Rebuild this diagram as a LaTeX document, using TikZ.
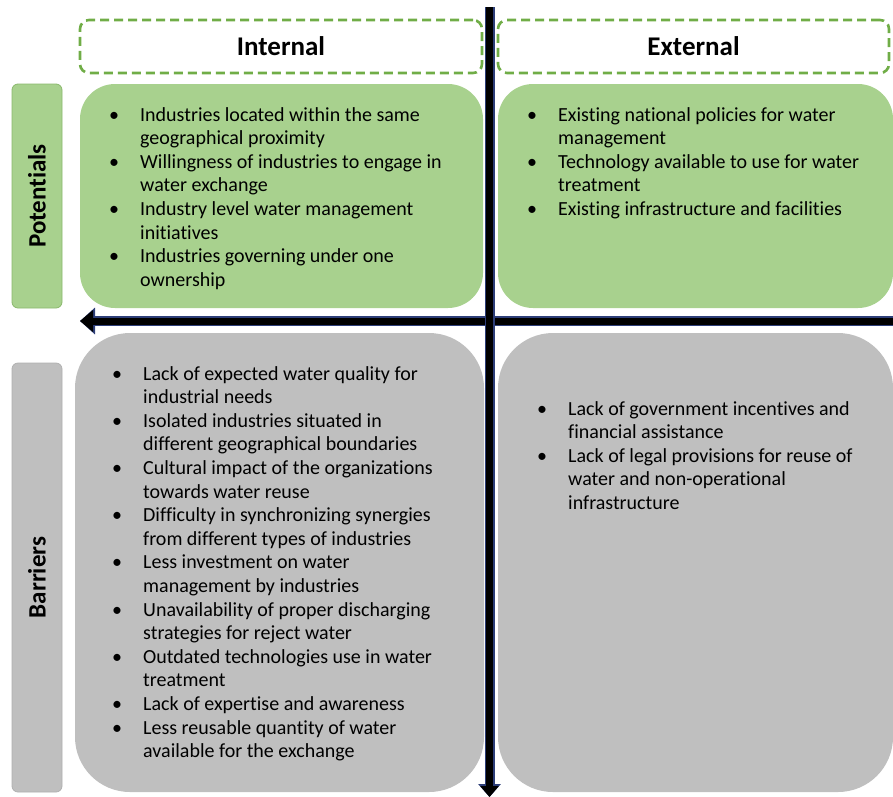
\documentclass[tikz,border=0pt]{standalone}
\usepackage{fontspec}
\setmainfont{Carlito}[Ligatures=NoCommon]
\usetikzlibrary{arrows.meta}
\usepackage{xcolor}

\definecolor{potgreen}{RGB}{168,209,142}
\definecolor{potedge}{RGB}{138,184,108}
\definecolor{dashgreen}{RGB}{112,173,71}
\definecolor{bargray}{RGB}{191,191,191}
\definecolor{baredge}{RGB}{176,176,176}
\definecolor{axisblue}{RGB}{45,62,120}

\newcommand{\itm}{\llap{\textbullet\hspace{21pt}}}

\tikzset{
  quad/.style={draw=none, inner sep=0pt},
  sidebox/.style={draw, line width=0.8pt, rounded corners=6pt, inner sep=0pt,
    minimum width=50pt},
  headbox/.style={draw=dashgreen, line width=2.6pt, dash pattern=on 9pt off 5pt,
    rounded corners=9pt, minimum height=53pt, inner sep=0pt,
    font=\bfseries\fontsize{27}{32}\selectfont},
  listtext/.style={anchor=base west, inner sep=0pt,
    font=\fontsize{20}{23.6}\selectfont},
  axisout/.style={draw=axisblue, line width=10pt},
  axisin/.style={draw=black, line width=7pt}
}

\begin{document}
\begin{tikzpicture}[x=1pt,y=-1pt]
  \useasboundingbox (0,0) rectangle (893,796);
  \pgfmathsetmacro{\vx}{489.5}
  \pgfmathsetmacro{\hy}{321}

  % quadrants
  \node[quad, fill=potgreen, rounded corners=35pt, minimum width=403pt,
    minimum height=224pt] (intpot) at (281.5,196) {};
  \node[quad, fill=potgreen, rounded corners=35pt, minimum width=395pt,
    minimum height=224pt] (extpot) at (695.5,196) {};
  \node[quad, fill=bargray, rounded corners=55pt, minimum width=409pt,
    minimum height=459pt] (intbar) at (279.5,562.5) {};
  \node[quad, fill=bargray, rounded corners=55pt, minimum width=395pt,
    minimum height=459pt] (extbar) at (695.5,562.5) {};

  % side labels
  \node[sidebox, draw=potedge, fill=potgreen, minimum height=224pt] (potbox) at (37,196) {};
  \node[rotate=90, font=\bfseries\fontsize{25}{30}\selectfont] (potlbl) at (potbox) {Potentials};
  \node[sidebox, draw=baredge, fill=bargray, minimum height=429pt] (barbox) at (37,577.5) {};
  \node[rotate=90, font=\bfseries\fontsize{25}{30}\selectfont] (barlbl) at (barbox) {Barriers};

  % headers
  \foreach \cx/\w/\t/\nm in {281/402/Internal/hint, 693.5/391/External/hext}
  {
    \node[headbox, minimum width=\w pt] (\nm) at (\cx,46.5) {\t};
  }

  % axes
  \coordinate (vtop) at (\vx,7);
  \coordinate (vbot) at (\vx,797);
  \coordinate (hright) at (896,\hy);
  \coordinate (hleft) at (80,\hy);
  \draw[axisout, -{Triangle[length=15pt,width=26pt]}] (hright) -- (hleft);
  \draw[axisin, -{Triangle[length=13pt,width=21pt]}] (hright) -- (hleft);
  \draw[axisout, -{Triangle[length=13pt,width=22pt]}] (vtop) -- (vbot);
  \draw[axisin, -{Triangle[length=11pt,width=18pt]}] (vtop) -- (vbot);

  % texts
  \node[listtext] (intpottxt) at (140,121) {\begin{tabular}[t]{@{}l@{}}
    \itm Industries located within the same\\
    geographical proximity\\
    \itm Willingness of industries to engage in\\
    water exchange\\
    \itm Industry level water management\\
    initiatives\\
    \itm Industries governing under one\\
    ownership
  \end{tabular}};

  \node[listtext] (extpottxt) at (558,121) {\begin{tabular}[t]{@{}l@{}}
    \itm Existing national policies for water\\
    management\\
    \itm Technology available to use for water\\
    treatment\\
    \itm Existing infrastructure and facilities
  \end{tabular}};

  \node[listtext] (intbartxt) at (143,380) {\begin{tabular}[t]{@{}l@{}}
    \itm Lack of expected water quality for\\
    industrial needs\\
    \itm Isolated industries situated in\\
    different geographical boundaries\\
    \itm Cultural impact of the organizations\\
    towards water reuse\\
    \itm Difficulty in synchronizing synergies\\
    from different types of industries\\
    \itm Less investment on water\\
    management by industries\\
    \itm Unavailability of proper discharging\\
    strategies for reject water\\
    \itm Outdated technologies use in water\\
    treatment\\
    \itm Lack of expertise and awareness\\
    \itm Less reusable quantity of water\\
    available for the exchange
  \end{tabular}};

  \node[listtext] (extbartxt) at (568,415) {\begin{tabular}[t]{@{}l@{}}
    \itm Lack of government incentives and\\
    financial assistance\\
    \itm Lack of legal provisions for reuse of\\
    water and non-operational\\
    infrastructure
  \end{tabular}};
\end{tikzpicture}
\end{document}
